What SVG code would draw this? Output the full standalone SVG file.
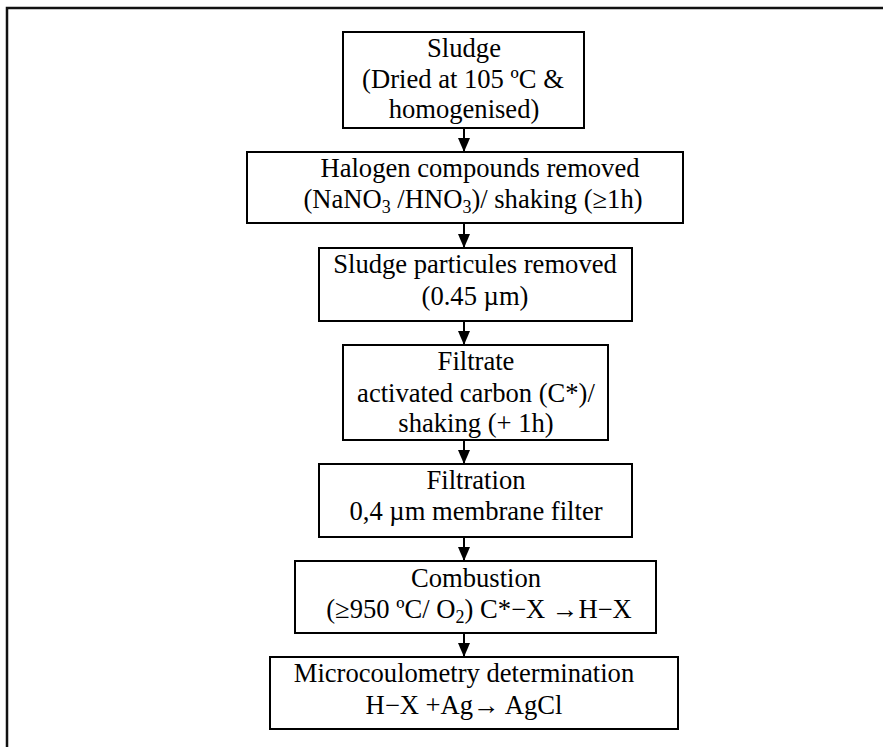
<svg xmlns="http://www.w3.org/2000/svg" width="883" height="747" viewBox="0 0 883 747">
  <style>
    .box { fill: #fff; stroke: #000; stroke-width: 2; }
    .frame { fill: none; stroke: #111; stroke-width: 2.5; }
    .link { stroke: #000; stroke-width: 2; fill: none; }
    text { font-family: "Liberation Serif", "Times New Roman", serif; font-size: 26.6px; fill: #000; text-anchor: middle; }
    .sub { font-size: 18px; }
  </style>
  <defs>
    <marker id="arrow" viewBox="0 0 14 12" refX="14" refY="6" markerWidth="14" markerHeight="12" markerUnits="userSpaceOnUse" orient="auto">
      <path d="M0,0 L14,6 L0,12 Z" fill="#000"/>
    </marker>
  </defs>
  <rect width="883" height="747" fill="#fff"/>
  <!-- outer frame, open to the right and bottom -->
  <path class="frame" d="M7,747 V8 H883"/>

  <g id="connectors">
    <line class="link" x1="464" y1="128" x2="464" y2="152" marker-end="url(#arrow)"/>
    <line class="link" x1="464" y1="223" x2="464" y2="248" marker-end="url(#arrow)"/>
    <line class="link" x1="464" y1="321" x2="464" y2="345" marker-end="url(#arrow)"/>
    <line class="link" x1="464" y1="440" x2="464" y2="464" marker-end="url(#arrow)"/>
    <line class="link" x1="464" y1="537" x2="464" y2="561" marker-end="url(#arrow)"/>
    <line class="link" x1="464" y1="633" x2="464" y2="657" marker-end="url(#arrow)"/>
  </g>

  <g id="sludge">
    <rect class="box" x="343" y="32" width="241" height="96"/>
    <text x="464" y="57">Sludge</text>
    <text x="463" y="88">(Dried at 105 ºC &amp;</text>
    <text x="464" y="118">homogenised)</text>
  </g>

  <g id="halogen">
    <rect class="box" x="247" y="152" width="436" height="71"/>
    <text x="480" y="177">Halogen compounds removed</text>
    <text x="473" y="208">(NaNO<tspan class="sub" dy="5">3</tspan><tspan dy="-5"> /HNO</tspan><tspan class="sub" dy="5">3</tspan><tspan dy="-5">)/ shaking (≥1h)</tspan></text>
  </g>

  <g id="particules">
    <rect class="box" x="319" y="248" width="313" height="73"/>
    <text x="475" y="273">Sludge particules removed</text>
    <text x="475" y="305">(0.45 µm)</text>
  </g>

  <g id="filtrate">
    <rect class="box" x="343" y="345" width="265" height="95"/>
    <text x="476" y="370">Filtrate</text>
    <text x="476" y="402">activated carbon (C*)/</text>
    <text x="476" y="432">shaking (+ 1h)</text>
  </g>

  <g id="filtration">
    <rect class="box" x="319" y="464" width="313" height="73"/>
    <text x="476" y="489">Filtration</text>
    <text x="476" y="520">0,4 µm membrane filter</text>
  </g>

  <g id="combustion">
    <rect class="box" x="295" y="561" width="361" height="72"/>
    <text x="476" y="587">Combustion</text>
    <text x="479" y="618">(≥950 ºC/ O<tspan class="sub" dy="5">2</tspan><tspan dy="-5">) C*−X →H−X</tspan></text>
  </g>

  <g id="microcoulometry">
    <rect class="box" x="270" y="657" width="408" height="72"/>
    <text x="464" y="682">Microcoulometry determination</text>
    <text x="464" y="714">H−X +Ag→ AgCl</text>
  </g>
</svg>
